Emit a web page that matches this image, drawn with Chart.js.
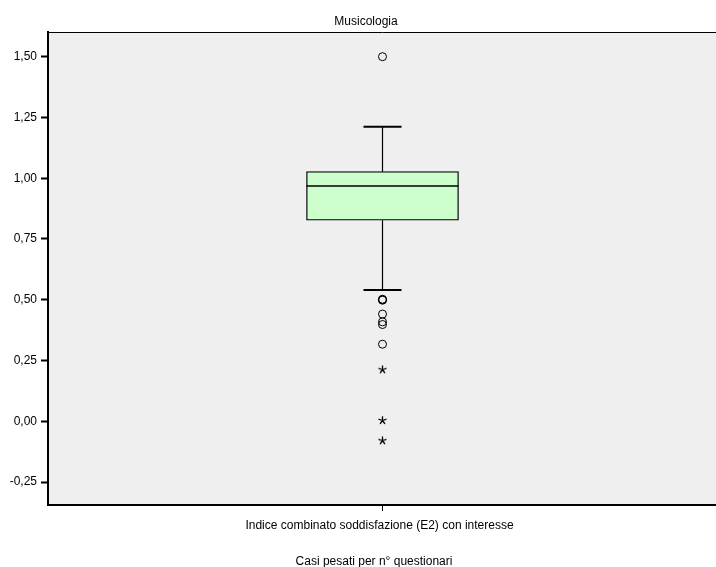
<!DOCTYPE html>
<html>
<head>
<meta charset="utf-8">
<title>Musicologia</title>
<script src="https://cdn.jsdelivr.net/npm/chart.js@4"></script>
<style>
  html, body { margin: 0; padding: 0; background: #ffffff; overflow: hidden; width: 716px; height: 567px; }
  #wrap { width: 723px; height: 567px; }
</style>
</head>
<body>
<div id="wrap"><canvas id="c" width="723" height="567"></canvas></div>
<script>
// Category and five-number summary of the box
const categories = ['Indice combinato soddisfazione (E2) con interesse'];
const whiskerLow = [0.54];
const quartile1 = [0.827];
const median = [0.968];
const quartile3 = [1.027];
const whiskerHigh = [1.212];

// Outliers (circles) and extreme values (stars)
const outliers = [1.50, 0.502, 0.500, 0.498, 0.441, 0.409, 0.398, 0.317];
const extremes = [0.212, 0.003, -0.08];

// Value axis ticks
const yTicks = [-0.25, 0.00, 0.25, 0.50, 0.75, 1.00, 1.25, 1.50];

const FONT = "'Liberation Sans', Arial, sans-serif";

// Small five-spoke star used for extreme values
function makeStar() {
  const s = document.createElement('canvas');
  s.width = 11; s.height = 11;
  const g = s.getContext('2d');
  g.strokeStyle = '#000';
  g.lineWidth = 1.3;
  g.beginPath();
  for (let k = 0; k < 5; k++) {
    const a = -Math.PI / 2 + k * 2 * Math.PI / 5;
    g.moveTo(5.5, 5.5);
    g.lineTo(5.5 + 4.2 * Math.cos(a), 5.5 + 4.2 * Math.sin(a));
  }
  g.stroke();
  return s;
}
const starImg = makeStar();

// Plot background, top frame line and footnote
const framePlugin = {
  id: 'frame',
  beforeDraw(chart) {
    const a = chart.chartArea, ctx = chart.ctx;
    ctx.save();
    ctx.fillStyle = '#efefef';
    ctx.fillRect(a.left, a.top, a.right - a.left, a.bottom - a.top);
    ctx.restore();
  },
  afterDraw(chart) {
    const a = chart.chartArea, ctx = chart.ctx;
    ctx.save();
    ctx.strokeStyle = '#000';
    ctx.lineWidth = 1;
    ctx.beginPath();
    ctx.moveTo(a.left, a.top + 0.5);
    ctx.lineTo(a.right, a.top + 0.5);
    ctx.stroke();
    ctx.fillStyle = '#000';
    ctx.font = '12px ' + FONT;
    ctx.textAlign = 'center';
    ctx.textBaseline = 'alphabetic';
    ctx.fillText('Casi pesati per n\u00b0 questionari', (a.left + a.right) / 2 - 8.5, 565);
    ctx.restore();
  }
};

// Median line, whiskers and whisker caps
const whiskerPlugin = {
  id: 'whiskers',
  afterDatasetsDraw(chart) {
    const ctx = chart.ctx;
    const xs = chart.scales.x, ys = chart.scales.y;
    const boxMeta = chart.getDatasetMeta(0);
    ctx.save();
    ctx.strokeStyle = '#000';
    categories.forEach((c, i) => {
      const bar = boxMeta.data[i];
      const half = bar.width / 2;
      const cx = xs.getPixelForValue(i);
      const yMed = ys.getPixelForValue(median[i]);
      const yQ1 = ys.getPixelForValue(quartile1[i]);
      const yQ3 = ys.getPixelForValue(quartile3[i]);
      const yLo = ys.getPixelForValue(whiskerLow[i]);
      const yHi = ys.getPixelForValue(whiskerHigh[i]);
      ctx.lineWidth = 1.5;
      ctx.beginPath();
      ctx.moveTo(cx - half, yMed);
      ctx.lineTo(cx + half, yMed);
      ctx.stroke();
      ctx.lineWidth = 1.2;
      ctx.beginPath();
      ctx.moveTo(cx, yQ3); ctx.lineTo(cx, yHi);
      ctx.moveTo(cx, yQ1); ctx.lineTo(cx, yLo);
      ctx.stroke();
      const cap = half / 4;
      ctx.lineWidth = 2;
      ctx.beginPath();
      ctx.moveTo(cx - cap, yHi); ctx.lineTo(cx + cap, yHi);
      ctx.moveTo(cx - cap, yLo); ctx.lineTo(cx + cap, yLo);
      ctx.stroke();
    });
    ctx.restore();
  }
};

new Chart(document.getElementById('c'), {
  type: 'bar',
  data: {
    labels: categories,
    datasets: [
      {
        type: 'bar',
        data: categories.map((c, i) => [quartile1[i], quartile3[i]]),
        backgroundColor: '#ccffcc',
        borderColor: '#000',
        borderWidth: 1.3,
        borderSkipped: false,
        barThickness: 152
      },
      {
        type: 'line',
        data: outliers.map(v => ({ x: categories[0], y: v })),
        showLine: false,
        pointStyle: 'circle',
        pointRadius: 4,
        pointBorderWidth: 1,
        pointBorderColor: '#000',
        pointBackgroundColor: 'rgba(0,0,0,0)'
      },
      {
        type: 'line',
        data: extremes.map(v => ({ x: categories[0], y: v })),
        showLine: false,
        pointStyle: starImg,
        pointRadius: 5
      }
    ]
  },
  options: {
    responsive: false,
    animation: false,
    events: [],
    layout: { padding: { left: 9, right: 0, top: 0, bottom: 0 } },
    plugins: {
      legend: { display: false },
      tooltip: { enabled: false },
      title: {
        display: true,
        text: 'Musicologia',
        color: '#000',
        font: { family: FONT, size: 12, weight: 'normal' },
        padding: { top: 14, bottom: 3.6 }
      }
    },
    scales: {
      x: {
        type: 'category',
        grid: {
          display: true,
          drawOnChartArea: false,
          drawTicks: true,
          tickLength: 6,
          tickWidth: 1,
          tickColor: '#000',
          offset: false
        },
        border: { display: true, color: '#000', width: 2 },
        ticks: {
          color: '#000',
          padding: 7,
          labelOffset: -3,
          maxRotation: 0,
          font: { family: FONT, size: 12 }
        },
        afterFit(scale) { scale.height = 62; }
      },
      y: {
        type: 'linear',
        min: -0.3446,
        max: 1.6016,
        grid: {
          display: true,
          drawOnChartArea: false,
          drawTicks: true,
          tickLength: 7,
          tickWidth: 2,
          tickColor: '#000'
        },
        border: { display: true, color: '#000', width: 2 },
        ticks: {
          color: '#000',
          padding: 4,
          font: { family: FONT, size: 12 },
          callback: (v) => Number(v).toFixed(2).replace('.', ',')
        },
        afterBuildTicks(scale) { scale.ticks = yTicks.map(v => ({ value: v })); },
        afterFit(scale) { scale.width = 39; }
      }
    }
  },
  plugins: [framePlugin, whiskerPlugin]
});
</script>
</body>
</html>
